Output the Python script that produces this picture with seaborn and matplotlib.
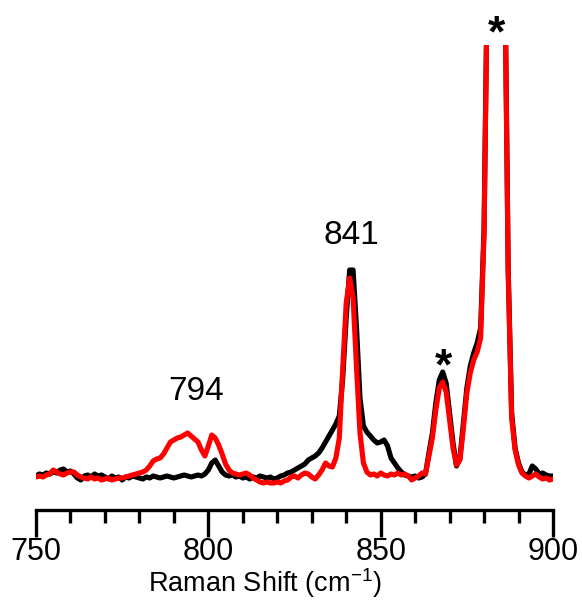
import numpy as np
import pandas as pd
import matplotlib
matplotlib.use("Agg")
import matplotlib.pyplot as plt
import seaborn as sns
from matplotlib.ticker import MultipleLocator

# Raman shift grid (cm^-1)
shift = np.arange(750, 901, 1)

black_intensity = [
    2, 4, 3, 5, 4, 6, 5, 8, 9, 6,            # 750-759
    7, 4, 0, -2, 2, 3, 1, 4, 2, 3,           # 760-769
    1, -1, 2, 0, 1, -2, 1, 0, 2, 1,          # 770-779
    0, -1, 1, 0, 2, 1, 0, 1, 2, 1,           # 780-789
    0, 1, 2, 3, 2, 1, 2, 3, 2, 4,            # 790-799
    8, 15, 18, 12, 6, 3, 2, 3, 1, 2,         # 800-809
    0, 1, -1, 1, 0, 2, 1, 0, 1, -1,          # 810-819
    0, 2, 3, 5, 6, 8, 10, 12, 14, 18,        # 820-829
    20, 22, 25, 30, 36, 42, 48, 54, 62, 100, # 830-839
    160, 208, 208, 150, 80, 52, 46, 42, 38, 35,   # 840-849
    36, 38, 32, 20, 15, 10, 6, 3, 2, 1,      # 850-859
    2, 0, 1, 4, 25, 45, 75, 98, 106, 95,     # 860-869
    65, 35, 12, 20, 55, 90, 112, 125, 135, 150,   # 870-879
    250, 520, 720, 780, 790, 720, 520, 210, 65, 30,  # 880-889
    15, 6, 3, 4, 12, 9, 4, 5, 3, 2,          # 890-899
    2,                                       # 900
]

red_intensity = [
    1, 2, 1, 3, 4, 8, 6, 4, 3, 5,            # 750-759
    6, 6, 3, 1, 0, -1, 1, -1, 0, -2,         # 760-769
    -1, 0, -2, -1, 0, 0, 1, 2, 3, 4,         # 770-779
    5, 6, 8, 12, 17, 19, 20, 24, 30, 36,     # 780-789
    38, 40, 41, 43, 45, 42, 39, 36, 28, 22,  # 790-799
    32, 43, 40, 33, 24, 14, 8, 5, 4, 3,      # 800-809
    4, 5, 3, 0, -2, -4, -5, -4, -5, -5,      # 810-819
    -4, -5, -3, -2, 1, 2, 0, 3, 5, 4,        # 820-829
    1, -1, 3, 8, 15, 12, 11, 20, 40, 110,    # 830-839
    175, 200, 180, 110, 45, 15, 6, 3, 4, 2,  # 840-849
    5, 3, 2, 4, 3, 5, 3, 4, 2, -2,           # 850-859
    0, 2, 5, 4, 22, 40, 68, 90, 96, 86,      # 860-869
    58, 30, 13, 18, 50, 85, 105, 118, 126, 140,   # 870-879
    245, 515, 720, 780, 790, 720, 515, 205, 60, 28,  # 880-889
    13, 5, 2, 0, 2, 4, 1, -1, 0, -2,         # 890-899
    -1,                                      # 900
]

peak_labels = ["794", "841"]
peak_label_x = [796.4, 841.5]
peak_label_y = [87, 242]
star_x = [868.1, 883.7]
star_y = [110, 443]

df = pd.DataFrame({
    "shift": np.concatenate([shift, shift]),
    "intensity": np.concatenate([black_intensity, red_intensity]),
    "sample": ["black"] * len(shift) + ["red"] * len(shift),
})

sns.set_style("white")
plt.rcParams["font.family"] = ["Liberation Sans", "DejaVu Sans"]
plt.rcParams["mathtext.fontset"] = "custom"
plt.rcParams["mathtext.rm"] = "Liberation Sans"
plt.rcParams["mathtext.it"] = "Liberation Sans"
plt.rcParams["text.color"] = "black"
plt.rcParams["axes.labelcolor"] = "black"
plt.rcParams["xtick.color"] = "black"

fig = plt.figure(figsize=(5.82, 6.00), dpi=100)
ax = fig.add_axes([36 / 582, 90 / 600, (553 - 36) / 582, (510 - 45) / 600])

sns.lineplot(data=df, x="shift", y="intensity", hue="sample",
             palette={"black": "#000000", "red": "#ff0000"},
             linewidth=3.7, legend=False, ax=ax, estimator=None)

ax.set_xlim(750, 900)
ax.set_ylim(-32, 433)

for s in ["top", "left", "right"]:
    ax.spines[s].set_visible(False)
ax.spines["bottom"].set_linewidth(2.4)
ax.spines["bottom"].set_color("black")

ax.xaxis.set_major_locator(MultipleLocator(50))
ax.xaxis.set_minor_locator(MultipleLocator(10))
ax.tick_params(axis="x", which="major", direction="out", length=19.5,
               width=2.4, labelsize=22, pad=0, color="black",
               labelcolor="black", bottom=True)
ax.tick_params(axis="x", which="minor", direction="out", length=9.5,
               width=2.4, color="black", bottom=True)
ax.set_yticks([])
ax.set_ylabel("")
ax.set_xlabel("Raman Shift (cm$^{-1}$)", fontsize=19.5, color="black")
ax.xaxis.set_label_coords((265 - 36) / 517, -0.121)

for lab, lx, ly in zip(peak_labels, peak_label_x, peak_label_y):
    ax.text(lx, ly, lab, fontsize=24, ha="center", va="center", color="black")
for sx, sy in zip(star_x, star_y):
    ax.text(sx, sy, "*", fontsize=32, fontweight="bold", ha="center",
            va="center", clip_on=False, color="black")

fig.savefig("out.png", dpi=100, facecolor="white")
